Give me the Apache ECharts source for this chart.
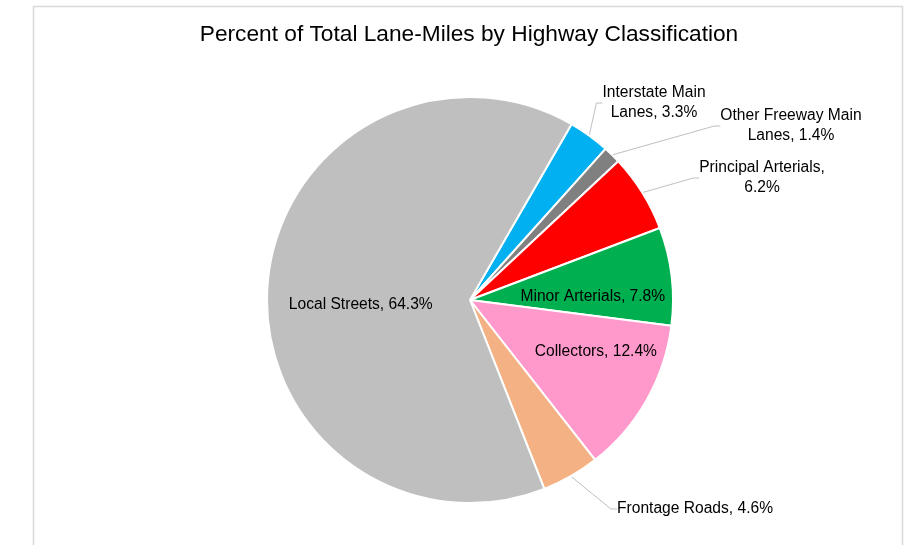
<!DOCTYPE html>
<html>
<head>
<meta charset="utf-8">
<script src="https://cdn.jsdelivr.net/npm/echarts@6/dist/echarts.min.js"></script>
<style>
html,body{margin:0;padding:0;background:#fff;}
#chart{width:911px;height:545px;}
</style>
</head>
<body>
<div id="chart"></div>
<script>
const categories = ["Interstate Main Lanes", "Other Freeway Main Lanes", "Principal Arterials", "Minor Arterials", "Collectors", "Frontage Roads", "Local Streets"];
const percents = [3.3, 1.4, 6.2, 7.8, 12.4, 4.6, 64.3];
const colors = ["#00B0F0", "#808080", "#FF0000", "#00B050", "#FF99CC", "#F4B183", "#BFBFBF"];
const insideSet = new Set(["Minor Arterials", "Collectors", "Local Streets"]);

function labelText(name, v) {
  const s = name + ", " + v.toFixed(1) + "%";
  if (name === "Interstate Main Lanes") return "Interstate Main\nLanes, " + v.toFixed(1) + "%";
  if (name === "Other Freeway Main Lanes") return "Other Freeway Main\nLanes, " + v.toFixed(1) + "%";
  if (name === "Principal Arterials") return "Principal Arterials,\n" + v.toFixed(1) + "%";
  return s;
}

// label placements (label positions only)
const labelPlace = {
  "Interstate Main Lanes": {x: 654, y: 103},
  "Other Freeway Main Lanes": {x: 791, y: 126},
  "Principal Arterials": {x: 762, y: 178},
  "Frontage Roads": {x: 695, y: 509},
  "Minor Arterials": {dx: 19, dy: 9},
  "Collectors": {dx: 35, dy: 0},
  "Local Streets": {dx: -5, dy: 12}
};

const chart = echarts.init(document.getElementById('chart'), null, {renderer: 'canvas'});
chart.setOption({
  animation: false,
  backgroundColor: '#fff',
  graphic: [{
    type: 'rect', silent: true,
    shape: {x: 33.5, y: 6.5, width: 869, height: 560},
    style: {fill: 'none', stroke: '#D9D9D9', lineWidth: 1.5}
  }, {
    type: 'text', silent: true,
    x: 469, y: 35,
    style: {
      text: 'Percent of Total Lane-Miles by Highway Classification',
      font: 'normal 22.7px "Liberation Sans"', fill: '#000',
      align: 'center', verticalAlign: 'middle'
    }
  }],
  series: [{
    type: 'pie',
    center: [470, 300],
    radius: 203,
    startAngle: 60,
    clockwise: true,
    avoidLabelOverlap: false,
    itemStyle: {borderColor: '#fff', borderWidth: 2},
    label: {
      fontFamily: 'Liberation Sans', fontSize: 15.6, color: '#000', lineHeight: 20,
      formatter: p => labelText(p.name, p.value)
    },
    labelLine: {show: true, length: 15, length2: 6, lineStyle: {color: '#BFBFBF', width: 1}},
    labelLayout: function (params) {
      const name = categories[params.dataIndex];
      const pl = labelPlace[name];
      if (pl.x !== undefined) return {x: pl.x, y: pl.y, align: 'center', verticalAlign: 'middle'};
      return {dx: pl.dx, dy: pl.dy};
    },
    data: categories.map((c, i) => ({
      name: c,
      value: percents[i],
      itemStyle: {color: colors[i]},
      label: {position: insideSet.has(c) ? 'inside' : 'outside'},
      labelLine: {show: !insideSet.has(c)}
    }))
  }]
});
</script>
</body>
</html>
